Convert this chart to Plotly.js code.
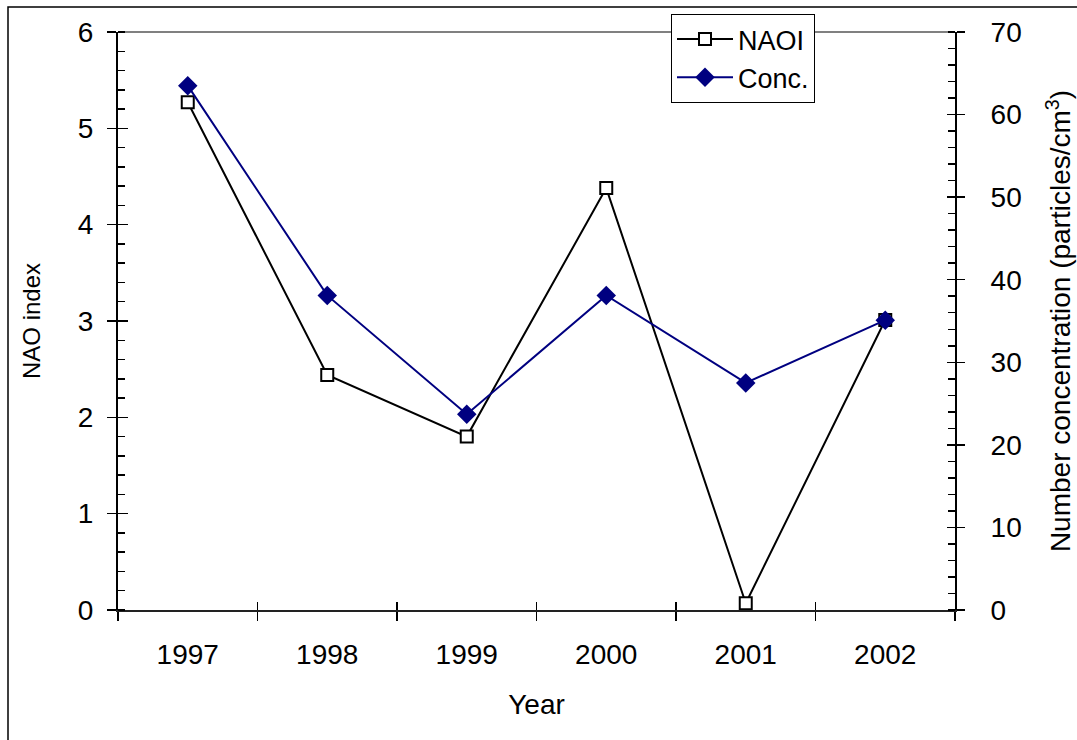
<!DOCTYPE html>
<html><head><meta charset="utf-8">
<script src="https://cdn.plot.ly/plotly-3.0.1.min.js"></script>
<style>html,body{margin:0;padding:0;background:#fff;} #chart{width:1077px;height:740px;}</style>
</head><body><div id="chart"></div>
<script>
const years = ['1997', '1998', '1999', '2000', '2001', '2002'];
const naoi = [5.27, 2.44, 1.80, 4.38, 0.07, 3.01];
const conc = [63.5, 38.1, 23.7, 38.1, 27.5, 35.1];
const naoRange = [0, 6];
const concRange = [0, 70];

const FONT = '"Liberation Sans", Arial, sans-serif';
const W = 1077, H = 740;
const M = {l: 118, r: 122, t: 32, b: 130};
const pw = W - M.l - M.r, ph = H - M.t - M.b;
const px = v => (v - M.l) / pw;
const py = v => (H - M.b - v) / ph;

const traces = [
  {x: years, y: naoi, name: 'NAOI', type: 'scatter', mode: 'lines+markers',
   xaxis: 'x', yaxis: 'y',
   line: {color: '#000000', width: 2},
   marker: {symbol: 'square', size: 12, color: '#ffffff', line: {color: '#000000', width: 2}}},
  {x: years, y: conc, name: 'Conc.', type: 'scatter', mode: 'lines+markers',
   xaxis: 'x', yaxis: 'y2',
   line: {color: '#000080', width: 2},
   marker: {symbol: 'diamond', size: 15, color: '#000080'}},
  // helper (invisible) traces so the tick-overlay axes are drawn
  {x: years, y: naoi, xaxis: 'x2', yaxis: 'y', mode: 'none', showlegend: false, hoverinfo: 'skip'},
  {x: years, y: naoi, xaxis: 'x', yaxis: 'y3', mode: 'none', showlegend: false, hoverinfo: 'skip'},
  {x: years, y: conc, xaxis: 'x', yaxis: 'y4', mode: 'none', showlegend: false, hoverinfo: 'skip'}
];

const tickFont = {family: FONT, size: 28, color: '#000'};
const layout = {
  width: W, height: H,
  margin: M,
  paper_bgcolor: '#ffffff', plot_bgcolor: '#ffffff',
  font: {family: FONT, color: '#000'},
  showlegend: true,
  legend: {x: px(671), y: py(14), xanchor: 'left', yanchor: 'top',
    bgcolor: '#ffffff', bordercolor: '#000000', borderwidth: 1,
    font: {family: FONT, size: 27, color: '#000'}, tracegroupgap: 0, itemwidth: 56},
  xaxis: {type: 'category', range: [-0.5, 5.5], tickson: 'boundaries',
    ticks: 'outside', ticklen: 9, tickwidth: 1.5, tickcolor: '#000',
    showline: true, linecolor: '#222', linewidth: 2, showgrid: false, zeroline: false,
    tickfont: tickFont, ticklabelstandoff: 18,
    title: {text: 'Year', font: {family: FONT, size: 28, color: '#000'}, standoff: 26},
    fixedrange: true},
  xaxis2: {type: 'category', overlaying: 'x', anchor: 'y', range: [-0.5, 5.5], tickson: 'boundaries',
    ticks: 'inside', ticklen: 8, tickwidth: 1.5, tickcolor: '#000',
    showline: false, showgrid: false, zeroline: false, showticklabels: false},
  yaxis: {range: naoRange, dtick: 1, tick0: 0,
    ticks: 'outside', ticklen: 9, tickwidth: 1.5, tickcolor: '#000',
    minor: {ticks: 'inside', ticklen: 7, dtick: 0.2, tickwidth: 1.5, tickcolor: '#000', showgrid: false},
    showline: true, linecolor: '#000', linewidth: 2, showgrid: false, zeroline: false,
    tickfont: tickFont, ticklabelstandoff: 8,
    title: {text: 'NAO index', font: {family: FONT, size: 24, color: '#000'}, standoff: 30}},
  yaxis3: {range: naoRange, dtick: 1, tick0: 0, overlaying: 'y', anchor: 'x', side: 'left',
    ticks: 'inside', ticklen: 10, tickwidth: 1.5, tickcolor: '#000',
    showline: false, showgrid: false, zeroline: false, showticklabels: false},
  yaxis2: {range: concRange, dtick: 10, tick0: 0, overlaying: 'y', anchor: 'x', side: 'right',
    ticks: 'outside', ticklen: 8, tickwidth: 1.5, tickcolor: '#000',
    minor: {ticks: 'inside', ticklen: 7, dtick: 2, tickwidth: 1.5, tickcolor: '#000', showgrid: false},
    showline: true, linecolor: '#000', linewidth: 2, showgrid: false, zeroline: false,
    tickfont: tickFont, ticklabelstandoff: 20,
    title: {text: 'Number concentration (particles/cm<sup>3</sup>)', font: {family: FONT, size: 28, color: '#000'}, standoff: 30}},
  yaxis4: {range: concRange, dtick: 10, tick0: 0, overlaying: 'y', anchor: 'x', side: 'right',
    ticks: 'inside', ticklen: 8, tickwidth: 1.5, tickcolor: '#000',
    showline: false, showgrid: false, zeroline: false, showticklabels: false},
  shapes: [
    {type: 'line', xref: 'paper', yref: 'paper', x0: 0, x1: 1, y0: 1, y1: 1,
     line: {color: '#808080', width: 2}, layer: 'below'},
    {type: 'rect', xref: 'paper', yref: 'paper', x0: px(8), x1: px(1082), y0: py(748), y1: py(7),
     line: {color: '#000000', width: 1.5}, fillcolor: 'rgba(0,0,0,0)', layer: 'below'}
  ]
};

Plotly.newPlot('chart', traces, layout, {displayModeBar: false, staticPlot: true});
</script>
</body></html>
